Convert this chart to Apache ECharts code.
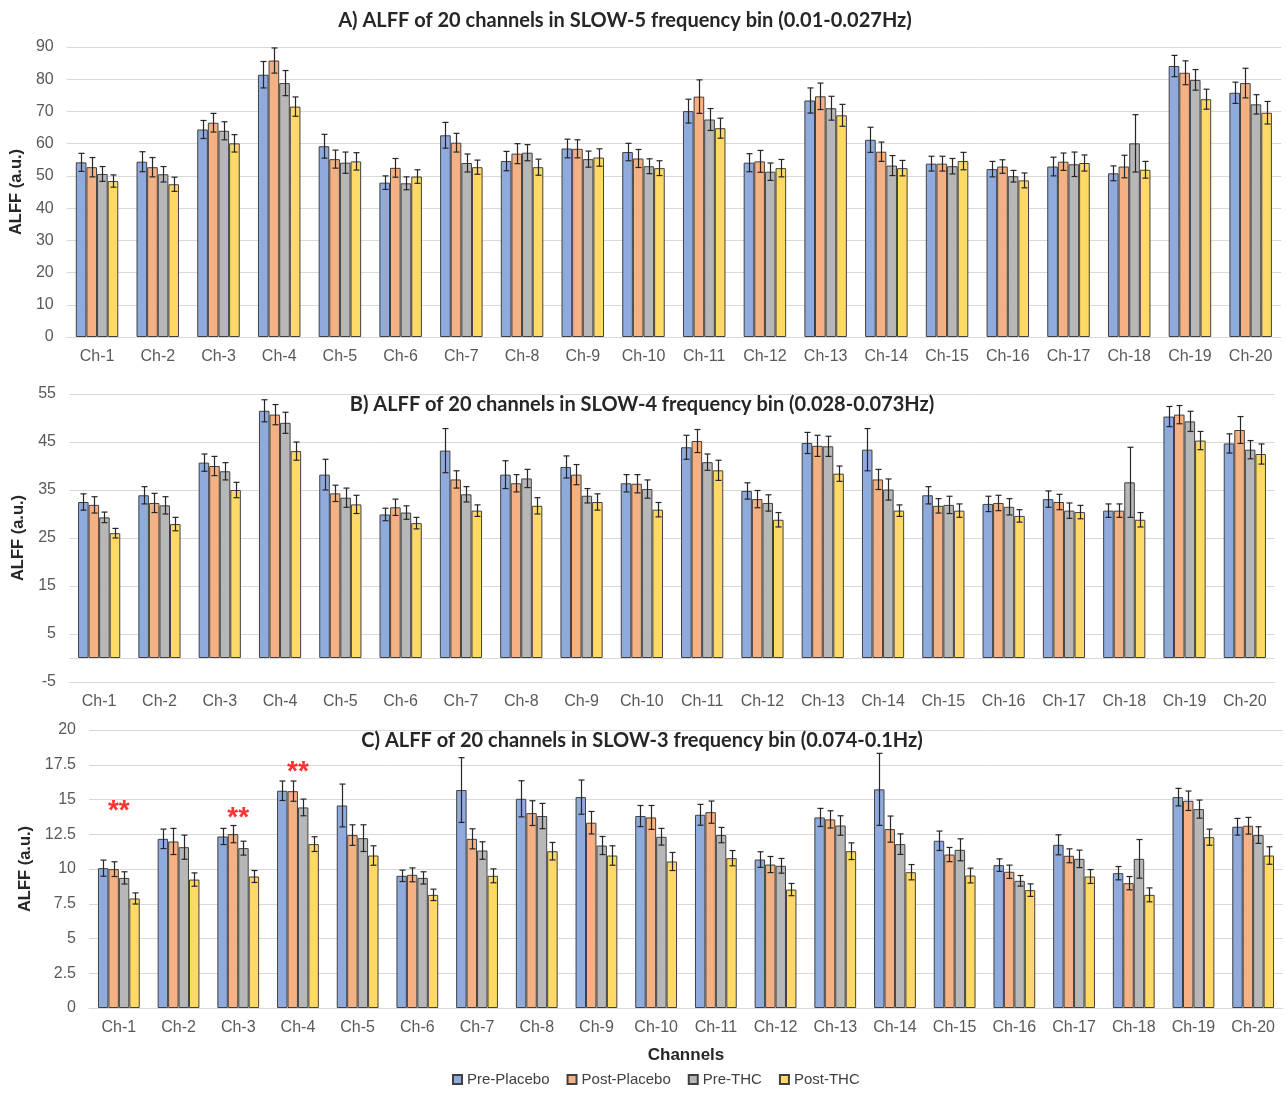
<!DOCTYPE html>
<html>
<head>
<meta charset="utf-8">
<title>ALFF of 20 channels</title>
<script src="https://cdn.jsdelivr.net/npm/echarts@6/dist/echarts.min.js"></script>
<style>
  html, body { margin: 0; padding: 0; background: #ffffff; }
  #chart { width: 1286px; height: 1096px; }
</style>
</head>
<body>
<div id="chart"></div>
<script>
// Channel labels shared by all three frequency bins
const channels = ['Ch-1','Ch-2','Ch-3','Ch-4','Ch-5','Ch-6','Ch-7','Ch-8','Ch-9','Ch-10',
  'Ch-11','Ch-12','Ch-13','Ch-14','Ch-15','Ch-16','Ch-17','Ch-18','Ch-19','Ch-20'];
const conditions = ['Pre-Placebo', 'Post-Placebo', 'Pre-THC', 'Post-THC'];

// SLOW-5 (0.01-0.027 Hz): means and error-bar half-lengths
const slow5PrePlacebo  = [54.2, 54.4, 64.4, 81.4, 59.2, 47.9, 62.6, 54.6, 58.5, 57.4, 70.1, 54.1, 73.4, 61.2, 53.8, 52.1, 52.9, 50.8, 84.1, 75.8];
const slow5PostPlacebo = [52.7, 52.7, 66.5, 85.8, 55.2, 52.5, 60.3, 56.9, 58.4, 55.4, 74.6, 54.5, 74.7, 57.5, 53.8, 52.9, 54.4, 52.9, 82.0, 78.8];
const slow5PreTHC      = [50.6, 50.5, 64.0, 78.8, 54.1, 47.7, 54.0, 57.2, 55.2, 53.0, 67.5, 51.3, 71.0, 53.2, 53.0, 49.9, 53.6, 60.1, 79.8, 72.2];
const slow5PostTHC     = [48.4, 47.4, 60.1, 71.5, 54.5, 49.8, 52.7, 52.7, 55.7, 52.4, 64.8, 52.4, 68.8, 52.4, 54.6, 48.6, 54.0, 51.9, 73.8, 69.6];
const slow5ErrPrePlacebo  = [2.8, 3.1, 2.8, 4.1, 3.7, 2.1, 4.0, 3.0, 2.9, 2.7, 3.7, 2.8, 3.9, 3.9, 2.3, 2.4, 2.9, 2.3, 3.3, 3.3];
const slow5ErrPostPlacebo = [3.0, 3.0, 2.9, 3.9, 2.8, 2.9, 2.9, 3.1, 2.8, 2.8, 5.2, 3.4, 4.1, 3.0, 2.3, 2.1, 2.7, 3.5, 3.7, 4.6];
const slow5ErrPreTHC      = [2.3, 2.4, 2.8, 3.9, 3.3, 2.0, 2.8, 2.5, 2.5, 2.3, 3.4, 2.7, 3.7, 3.1, 2.4, 1.8, 3.8, 8.9, 3.2, 3.0];
const slow5ErrPostTHC     = [1.9, 2.2, 2.7, 3.0, 2.7, 2.1, 2.2, 2.5, 2.7, 2.3, 3.1, 2.7, 3.4, 2.4, 2.7, 2.3, 2.5, 2.6, 3.1, 3.5];

// SLOW-4 (0.028-0.073 Hz)
const slow4PrePlacebo  = [32.5, 33.9, 40.7, 51.5, 38.2, 29.9, 43.2, 38.2, 39.8, 36.4, 43.9, 34.8, 44.8, 43.4, 33.9, 32.1, 33.1, 30.7, 50.3, 44.7];
const slow4PostPlacebo = [31.9, 32.3, 40.0, 50.7, 34.3, 31.4, 37.2, 36.4, 38.2, 36.3, 45.2, 33.1, 44.2, 37.2, 31.7, 32.3, 32.5, 30.7, 50.7, 47.5];
const slow4PreTHC      = [29.3, 31.8, 38.9, 49.0, 33.4, 30.3, 34.1, 37.4, 33.8, 35.2, 40.8, 32.3, 44.1, 35.1, 31.9, 31.5, 30.7, 36.6, 49.3, 43.4];
const slow4PostTHC     = [26.0, 27.9, 35.0, 43.1, 32.0, 28.1, 30.7, 31.7, 32.5, 30.9, 39.1, 28.8, 38.4, 30.7, 30.7, 29.6, 30.4, 28.8, 45.3, 42.5];
const slow4ErrPrePlacebo  = [1.7, 1.8, 1.8, 2.3, 3.2, 1.3, 4.6, 2.9, 2.3, 1.8, 2.5, 1.7, 2.2, 4.4, 1.8, 1.6, 1.7, 1.4, 2.1, 2.0];
const slow4ErrPostPlacebo = [1.7, 2.0, 2.0, 2.1, 1.7, 1.7, 1.8, 1.8, 2.1, 1.9, 2.4, 1.8, 2.2, 2.1, 1.5, 1.6, 1.6, 1.4, 1.9, 2.8];
const slow4ErrPreTHC      = [1.1, 1.8, 1.8, 2.2, 2.0, 1.4, 1.6, 1.9, 1.5, 1.9, 1.7, 1.7, 2.1, 2.2, 1.8, 1.7, 1.6, 7.3, 2.1, 1.9];
const slow4ErrPostTHC     = [1.0, 1.4, 1.6, 1.9, 1.9, 1.2, 1.2, 1.7, 1.7, 1.5, 2.1, 1.5, 1.6, 1.2, 1.4, 1.3, 1.4, 1.5, 1.9, 2.1];

// SLOW-3 (0.074-0.1 Hz)
const slow3PrePlacebo  = [10.06, 12.17, 12.34, 15.63, 14.57, 9.51, 15.68, 15.05, 15.17, 13.81, 13.90, 10.68, 13.71, 15.73, 12.03, 10.28, 11.74, 9.70, 15.17, 13.04];
const slow3PostPlacebo = [9.99, 11.98, 12.51, 15.60, 12.44, 9.58, 12.17, 14.02, 13.33, 13.71, 14.09, 10.32, 13.57, 12.87, 11.04, 9.80, 10.95, 8.98, 14.91, 13.11];
const slow3PreTHC      = [9.36, 11.57, 11.50, 14.43, 12.22, 9.36, 11.33, 13.81, 11.69, 12.32, 12.44, 10.23, 13.13, 11.79, 11.38, 9.15, 10.73, 10.73, 14.31, 12.44];
const slow3PostTHC     = [7.88, 9.24, 9.46, 11.79, 10.97, 8.14, 9.51, 11.28, 10.97, 10.54, 10.78, 8.52, 11.28, 9.77, 9.53, 8.48, 9.46, 8.14, 12.29, 10.97];
const slow3ErrPrePlacebo  = [0.58, 0.70, 0.58, 0.70, 1.54, 0.41, 2.33, 1.30, 1.23, 0.76, 0.75, 0.56, 0.65, 2.59, 0.70, 0.45, 0.72, 0.48, 0.63, 0.60];
const slow3ErrPostPlacebo = [0.53, 0.94, 0.62, 0.73, 0.74, 0.50, 0.72, 0.89, 0.81, 0.86, 0.80, 0.58, 0.62, 0.94, 0.51, 0.48, 0.50, 0.48, 0.70, 0.60];
const slow3ErrPreTHC      = [0.44, 0.87, 0.50, 0.60, 0.96, 0.44, 0.63, 0.91, 0.65, 0.60, 0.55, 0.53, 0.70, 0.74, 0.79, 0.38, 0.63, 1.39, 0.65, 0.60];
const slow3ErrPostTHC     = [0.40, 0.48, 0.43, 0.53, 0.70, 0.41, 0.50, 0.63, 0.70, 0.65, 0.55, 0.44, 0.60, 0.55, 0.53, 0.45, 0.50, 0.50, 0.58, 0.63];

// Significance markers in the SLOW-3 bin
const sigChannels = ['Ch-1', 'Ch-3', 'Ch-4'];
const sigHeights  = [14.6, 14.1, 17.4];

// Y-axis tick settings per bin
const slow5Ticks = { min: 0, max: 90, interval: 10 };
const slow4Ticks = { min: -5, max: 55, interval: 10 };
const slow3Ticks = { min: 0, max: 20, interval: 2.5 };

const COLORS = ['#8FAADC', '#F4B183', '#B7B7B7', '#FFD966'];
const CAT_GAP = 0.30;
const GRID_COLOR = '#D9D9D9';
const LABEL_COLOR = '#595959';

const panels = [
  {
    title: 'A) ALFF of 20 channels in SLOW-5 frequency bin (0.01-0.027Hz)',
    titleX: 625, titleY: 21,
    grid: { left: 60, right: 5, top: 47, height: 290 },
    ticks: slow5Ticks, nameGap: 36,
    values: [slow5PrePlacebo, slow5PostPlacebo, slow5PreTHC, slow5PostTHC],
    errors: [slow5ErrPrePlacebo, slow5ErrPostPlacebo, slow5ErrPreTHC, slow5ErrPostTHC]
  },
  {
    title: 'B) ALFF of 20 channels in SLOW-4 frequency bin (0.028-0.073Hz)',
    titleX: 642, titleY: 405,
    grid: { left: 69, right: 11, top: 394, height: 288 },
    ticks: slow4Ticks, nameGap: 36,
    values: [slow4PrePlacebo, slow4PostPlacebo, slow4PreTHC, slow4PostTHC],
    errors: [slow4ErrPrePlacebo, slow4ErrPostPlacebo, slow4ErrPreTHC, slow4ErrPostTHC]
  },
  {
    title: 'C) ALFF of 20 channels in SLOW-3 frequency bin (0.074-0.1Hz)',
    titleX: 642, titleY: 741,
    grid: { left: 89, right: 3, top: 730, height: 278 },
    ticks: slow3Ticks, nameGap: 45,
    values: [slow3PrePlacebo, slow3PostPlacebo, slow3PreTHC, slow3PostTHC],
    errors: [slow3ErrPrePlacebo, slow3ErrPostPlacebo, slow3ErrPreTHC, slow3ErrPostTHC]
  }
];

// Error bar with caps, placed over the k-th bar of a category group
function renderErrorBar(params, api) {
  const cat = api.value(0);
  const k = api.value(1);
  const v = api.value(2);
  const e = api.value(3);
  const band = api.size([1, 0])[0];
  const groupW = band * (1 - CAT_GAP);
  const barW = groupW / 4;
  const cx = api.coord([cat, v])[0];
  const x = Math.round(cx - groupW / 2 + barW * (k + 0.5)) + 0.5;
  const yTop = api.coord([cat, v + e])[1];
  const yBot = api.coord([cat, v - e])[1];
  const cap = 3;
  const style = { stroke: '#262626', lineWidth: 1.2 };
  return {
    type: 'group',
    children: [
      { type: 'line', shape: { x1: x, y1: yTop, x2: x, y2: yBot }, style },
      { type: 'line', shape: { x1: x - cap, y1: yTop, x2: x + cap, y2: yTop }, style },
      { type: 'line', shape: { x1: x - cap, y1: yBot, x2: x + cap, y2: yBot }, style }
    ]
  };
}

const grids = [], xAxes = [], yAxes = [], series = [], graphics = [];

panels.forEach((p, i) => {
  grids.push(Object.assign({ containLabel: false }, p.grid));
  xAxes.push({
    type: 'category', gridIndex: i, data: channels,
    axisTick: { show: false },
    axisLine: { show: true, onZero: false, lineStyle: { color: GRID_COLOR, width: 1 } },
    axisLabel: { margin: 12, fontSize: 16, color: LABEL_COLOR, fontFamily: 'Liberation Sans' },
    name: i === 2 ? 'Channels' : '',
    nameLocation: 'middle', nameGap: 39,
    nameTextStyle: { fontSize: 17, fontWeight: 'bold', color: '#262626', fontFamily: 'Liberation Sans' }
  });
  yAxes.push({
    type: 'value', gridIndex: i,
    min: p.ticks.min, max: p.ticks.max, interval: p.ticks.interval,
    axisLine: { show: false }, axisTick: { show: false },
    splitLine: { lineStyle: { color: GRID_COLOR, width: 1 } },
    axisLabel: { margin: 13, fontSize: 16, color: LABEL_COLOR, fontFamily: 'Liberation Sans' },
    name: 'ALFF (a.u.)', nameLocation: 'middle', nameGap: p.nameGap,
    nameTextStyle: { fontSize: 16.5, fontWeight: 'bold', color: '#262626', fontFamily: 'Liberation Sans' }
  });

  p.values.forEach((vals, k) => {
    const s = {
      type: 'bar', name: conditions[k], xAxisIndex: i, yAxisIndex: i,
      data: vals, barGap: '0%', barCategoryGap: (CAT_GAP * 100) + '%',
      itemStyle: { color: COLORS[k], borderColor: '#404040', borderWidth: 1 },
      emphasis: { disabled: true }
    };
    // zero baseline for the bin whose axis starts below zero
    if (k === 0 && p.ticks.min < 0) {
      s.markLine = {
        silent: true, symbol: 'none', label: { show: false },
        lineStyle: { color: GRID_COLOR, type: 'solid', width: 1 },
        data: [{ yAxis: 0 }]
      };
    }
    series.push(s);
  });

  const errData = [];
  p.values.forEach((vals, k) => {
    vals.forEach((v, c) => errData.push([c, k, v, p.errors[k][c]]));
  });
  series.push({
    type: 'custom', xAxisIndex: i, yAxisIndex: i,
    renderItem: renderErrorBar, data: errData, z: 5,
    encode: { x: 0, y: 2 }, silent: true
  });

  graphics.push({
    type: 'text', x: p.titleX, y: p.titleY, z: 10,
    style: {
      text: p.title, fill: '#262626',
      font: 'bold 20px Lato, "Liberation Sans", sans-serif',
      align: 'center', verticalAlign: 'middle'
    }
  });
});

// significance asterisks over the SLOW-3 bars
series.push({
  type: 'scatter', xAxisIndex: 2, yAxisIndex: 2,
  data: sigChannels.map((c, i) => [c, sigHeights[i]]),
  symbolSize: 2, itemStyle: { color: 'rgba(255,255,255,0)' }, silent: true, z: 6,
  label: {
    show: true, position: 'inside', formatter: '**', offset: [0, 6],
    color: '#FF0000', fontSize: 28, fontWeight: 'bold', fontFamily: 'Liberation Sans'
  }
});

const chart = echarts.init(document.getElementById('chart'));
chart.setOption({
  animation: false,
  backgroundColor: '#ffffff',
  grid: grids,
  xAxis: xAxes,
  yAxis: yAxes,
  series: series,
  graphic: graphics,
  legend: {
    data: conditions, left: 452, top: 1072, padding: 0,
    icon: 'rect', itemWidth: 9, itemHeight: 9, itemGap: 17,
    textStyle: { fontSize: 15, color: '#404040', fontFamily: 'Liberation Sans' }
  }
});
</script>
</body>
</html>
